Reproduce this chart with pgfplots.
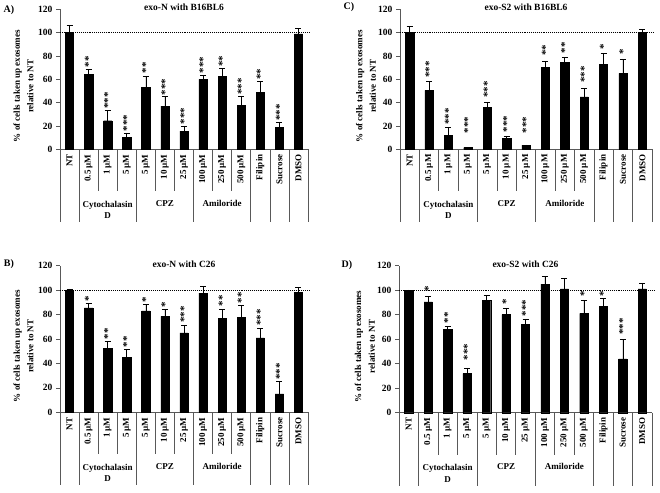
\documentclass[border=0pt]{standalone}
\usepackage{fontspec}
\setmainfont{Liberation Serif}
\usepackage{pgfplots}
\usepackage{pgfplotstable}
\pgfplotsset{compat=1.18}

% x = category index, y = bar, e = error, p = base of the star stack, s = stars
\pgfplotstableread{
x y e p s
0 100 6.5 0 {}
1 64 4.5 70 **
2 24.5 8.5 34.5 ***
3 10.5 3.5 15.5 ***
4 53 9.5 65 **
5 37 8 46 ***
6 15.5 4.5 21.5 ***
7 60 3.5 65 ***
8 62.5 6.5 70.5 **
9 37.5 8 46.5 ***
10 49 9.5 59.5 **
11 19 4.5 24.5 ***
12 99 4.5 0 {}
}\dataA

\pgfplotstableread{
x y e p s
0 100 1 0 {}
1 85.5 3.5 90.5 *
2 52.5 5.5 59.5 **
3 45 6.5 53 **
4 83 5 89.5 *
5 78.5 5.5 86 *
6 65 6.5 73 ***
7 97.5 5.5 0 {}
8 77 7.5 86.5 **
9 78 9.5 89 **
10 61 8 70.5 ***
11 15 10.5 26.5 ***
12 98 4.5 0 {}
}\dataB

\pgfplotstableread{
x y e p s
0 100 5 0 {}
1 50.5 8 61 ***
2 12 6.5 21 ***
3 1.5 0 13.5 ***
4 36 4.5 44 ***
5 9.5 2 14.5 ***
6 3.5 0.3 13.5 ***
7 70 5.5 80 **
8 74.5 4.5 82 **
9 45 7 57 ***
10 73 9 85 *
11 65 12.5 81.5 *
12 100 2.5 0 {}
}\dataC

\pgfplotstableread{
x y e p s
0 100 0.3 0 {}
1 90.5 4.5 99 *
2 68 2.5 73 **
3 32 4.5 42.5 ***
4 91.5 4 0 {}
5 80 5 88 *
6 72 4.5 78.5 ***
7 105 6.5 0 {}
8 101 8.5 0 {}
9 81 11 94.5 *
10 87 6 95 *
11 44 16 63.5 ***
12 101 5 0 {}
}\dataD

\newcommand{\lbl}{\bfseries\fontsize{9}{10}\selectfont}
\colorlet{axgray}{black!65}

% two-level category axis below each panel
\newcommand{\catframe}{%
  \pgfplotsinvokeforeach{1.5,2.5,4.5,5.5,7.5,8.5}{
    \draw[axgray, line width=0.6pt] (axis cs:##1,0) -- ++(0,-42pt);}
  \pgfplotsinvokeforeach{-0.5,0.5,3.5,6.5,9.5,10.5,11.5,12.5}{
    \draw[axgray, line width=0.6pt] (axis cs:##1,0) -- ++(0,-73pt);}
  \node[font=\lbl, align=center] at ([yshift=-60.5pt]axis cs:2,0) {Cytochalasin\\[1.5pt]D};
  \node[font=\lbl] at ([yshift=-54pt]axis cs:5,0) {CPZ};
  \node[font=\lbl] at ([yshift=-54pt]axis cs:8,0) {Amiloride};
}

\pgfplotsset{
  panel/.style={
    scale only axis,
    xmin=-0.5, xmax=12.5, ymin=0, ymax=120,
    anchor=south west,
    clip=false,
    axis x line*=bottom, axis y line*=left,
    axis line style={axgray, line width=0.7pt},
    ytick={0,20,...,120},
    tick align=outside,
    major tick length=4pt,
    y tick style={axgray, line width=0.7pt},
    x tick style={draw=none},
    xtick={0,...,12},
    xticklabels={NT,0.5 µM,1 µM,5 µM,5 µM,10 µM,25 µM,100 µM,250 µM,500 µM,Filipin,Sucrose,DMSO},
    xticklabel style={rotate=90, anchor=east, inner sep=1pt, font=\lbl},
    yticklabel style={font=\bfseries\fontsize{9.5}{10}\selectfont},
    /pgf/number format/assume math mode=true,
    every axis title shift=0pt,
    title style={font=\bfseries\fontsize{9.5}{11}\selectfont, at={(0.5,1.012)}, anchor=center},
    ylabel={\% of cells taken up exosomes\\relative to NT},
    ylabel style={align=center, font=\bfseries\fontsize{9}{13.6}\selectfont, anchor=center},
    after end axis/.code={\catframe},
  },
  bars/.style={ybar, fill=black, draw=black, bar width=8.3pt,
    error bars/.cd, y dir=plus, y explicit,
    error bar style={black, line width=0.6pt},
    error mark options={rotate=90, mark size=3pt, line width=0.6pt}},
  stars/.style={draw=none, mark=none,
    point meta=explicit symbolic, nodes near coords,
    nodes near coords style={rotate=90, anchor=west, inner sep=0pt,
      font=\bfseries\fontsize{11}{11}\selectfont}},
  refline/.style={black, densely dotted, line width=0.9pt},
}

\begin{document}
\begin{tikzpicture}
\useasboundingbox (0pt,0pt) rectangle (660pt,492pt);

\begin{axis}[panel, at={(60pt,342.7pt)}, width=248pt, height=140pt,
  title={exo-N with B16BL6},
  ylabel style={at={(axis description cs:-0.147,0.45)}}]
\addplot[refline] coordinates {(-0.5,100) (12.6,100)};
\addplot[bars] table[x=x, y=y, y error=e] {\dataA};
\addplot[stars] table[x=x, y=p, meta=s] {\dataA};
\end{axis}

\begin{axis}[panel, at={(60pt,79.7pt)}, width=248pt, height=146.6pt,
  title={exo-N with C26},
  ylabel style={at={(axis description cs:-0.147,0.45)}}]
\addplot[refline] coordinates {(-0.5,100) (12.6,100)};
\addplot[bars] table[x=x, y=y, y error=e] {\dataB};
\addplot[stars] table[x=x, y=p, meta=s] {\dataB};
\end{axis}

\begin{axis}[panel, at={(400pt,342.7pt)}, width=252pt, height=140pt,
  title={exo-S2 with B16BL6},
  ylabel style={at={(axis description cs:-0.135,0.45)}}]
\addplot[refline] coordinates {(-0.5,100) (12.6,100)};
\addplot[bars] table[x=x, y=y, y error=e] {\dataC};
\addplot[stars] table[x=x, y=p, meta=s] {\dataC};
\end{axis}

\begin{axis}[panel, at={(399pt,79.3pt)}, width=253pt, height=147pt,
  title={exo-S2 with C26},
  ylabel style={at={(axis description cs:-0.135,0.45)}}]
\addplot[refline] coordinates {(-0.5,100) (12.6,100)};
\addplot[bars] table[x=x, y=y, y error=e] {\dataD};
\addplot[stars] table[x=x, y=p, meta=s] {\dataD};
\end{axis}

\node[font=\bfseries\fontsize{10}{10}\selectfont] at (9pt,482pt) {A)};
\node[font=\bfseries\fontsize{10}{10}\selectfont] at (9pt,228pt) {B)};
\node[font=\bfseries\fontsize{10}{10}\selectfont] at (349pt,484.5pt) {C)};
\node[font=\bfseries\fontsize{10}{10}\selectfont] at (347pt,227pt) {D)};
\end{tikzpicture}
\end{document}
